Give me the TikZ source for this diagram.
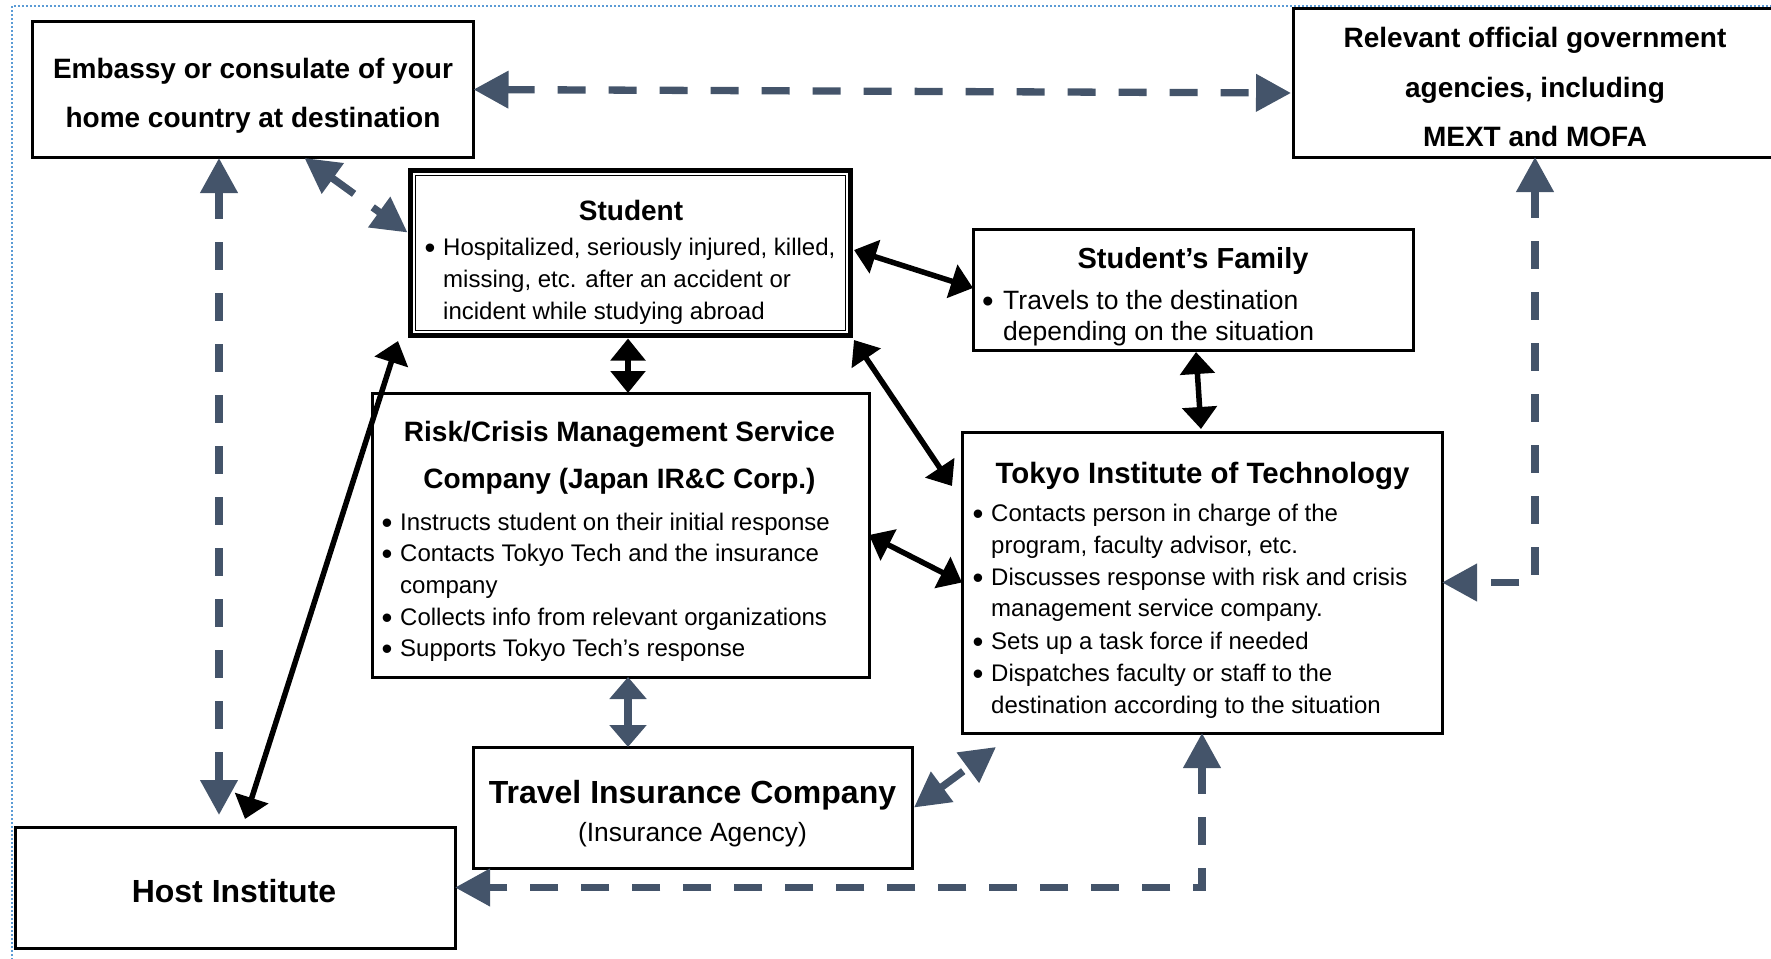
\documentclass[tikz,border=0pt]{standalone}
\usepackage{fontspec}
\setmainfont{Liberation Sans}
\usetikzlibrary{arrows.meta,calc}
\definecolor{slate}{HTML}{44546A}
\definecolor{frameblue}{HTML}{5B9BD5}

\tikzset{
  box/.style={draw=black, line width=3pt, fill=white, inner sep=0pt, outer sep=0pt},
  ttl/.style={font=\fontsize{28}{28}\selectfont\bfseries, anchor=mid, inner sep=0pt},
  bigttl/.style={font=\fontsize{32}{32}\selectfont\bfseries, anchor=mid, inner sep=0pt},
  txt/.style={font=\fontsize{24}{24}\selectfont, anchor=mid west, inner sep=0pt},
  famtxt/.style={font=\fontsize{26.5}{26.5}\selectfont, anchor=mid west, inner sep=0pt},
  bul/.style={font=\fontsize{31}{31}\selectfont, anchor=mid, inner sep=0pt, yshift=-3pt},
  solidlink/.style={draw=black, line width=5.5pt,
    {Triangle[length=22pt,width=34pt]}-{Triangle[length=22pt,width=34pt]}},
  dashlink/.style={draw=slate, line width=7.3pt, dash pattern=on 28pt off 23pt,
    {Triangle[length=35pt,width=36pt]}-{Triangle[length=35pt,width=36pt]}},
  shortlink/.style={draw=slate, line width=7.3pt,
    {Triangle[length=22pt,width=36pt]}-{Triangle[length=22pt,width=36pt]}},
  frameline/.style={draw=frameblue, line width=1.6pt, dash pattern=on 2pt off 2pt}
}

\begin{document}
\begin{tikzpicture}[x=1pt,y=-1pt]
\useasboundingbox (0,0) rectangle (1771,958);

% dotted outer frame (top and left)
\draw[frameline] (12,960) -- (12,6) -- (1771,6);

% boxes
\node[box, minimum width=441pt, minimum height=135pt] (emb) at (253,89.5) {};
\node[box, minimum width=484pt, minimum height=148pt] (gov) at (1535,83) {};
\node[box, line width=5pt, minimum width=440pt, minimum height=165pt] (stu) at (630.5,253) {};
\draw[line width=1.5pt] ($(stu.south west)+(5,-5)$) rectangle ($(stu.north east)+(-5,5)$);
\node[box, minimum width=440pt, minimum height=121pt] (fam) at (1193,289.5) {};
\node[box, minimum width=497pt, minimum height=284pt] (risk) at (620.5,535) {};
\node[box, minimum width=480pt, minimum height=301pt] (tok) at (1202,582.5) {};
\node[box, minimum width=439pt, minimum height=121pt] (trav) at (692.5,807.5) {};
\node[box, minimum width=440pt, minimum height=121pt] (hst) at (235,887.5) {};

% embassy
\node[ttl] (embT1) at (253,76) {Embassy or consulate of your};
\node[ttl] (embT2) at (253,125) {home country at destination};

% government agencies
\node[ttl] (govT1) at (1535,45) {Relevant official government};
\node[ttl] (govT2) at (1535,95) {agencies, including};
\node[ttl] (govT3) at (1535,144) {MEXT and MOFA};

% student
\node[ttl] (stuT) at (631,218) {Student};
\node[bul] (stuB1) at (430,253) {•};
\node[txt] (stuL1) at (443,253) {Hospitalized, seriously injured, killed,};
\node[txt] (stuL2) at (443,285) {missing, etc. after an accident or};
\node[txt] (stuL3) at (443,317) {incident while studying abroad};

% family
\node[ttl, font=\fontsize{29}{29}\selectfont\bfseries] (famT) at (1193,266) {Student’s Family};
\node[bul, font=\fontsize{33}{33}\selectfont] (famB1) at (988,307) {•};
\node[famtxt] (famL1) at (1003,307) {Travels to the destination};
\node[famtxt] (famL2) at (1003,338) {depending on the situation};

% risk / crisis management company
\node[ttl] (riskT1) at (619.5,439) {Risk/Crisis Management Service};
\node[ttl] (riskT2) at (619.5,486) {Company (Japan IR\&C Corp.)};
\node[bul] (riskB1) at (387,528) {•};
\node[txt] (riskL1) at (400,528) {Instructs student on their initial response};
\node[bul] (riskB2) at (387,559) {•};
\node[txt] (riskL2) at (400,559) {Contacts Tokyo Tech and the insurance};
\node[txt] (riskL3) at (400,591) {company};
\node[bul] (riskB3) at (387,623) {•};
\node[txt] (riskL4) at (400,623) {Collects info from relevant organizations};
\node[bul] (riskB4) at (387,654) {•};
\node[txt] (riskL5) at (400,654) {Supports Tokyo Tech’s response};

% Tokyo Tech
\node[ttl, font=\fontsize{29.4}{29.4}\selectfont\bfseries] (tokT) at (1202.5,481) {Tokyo Institute of Technology};
\node[bul] (tokB1) at (978,519) {•};
\node[txt] (tokL1) at (991,519) {Contacts person in charge of the};
\node[txt] (tokL2) at (991,551) {program, faculty advisor, etc.};
\node[bul] (tokB2) at (978,583) {•};
\node[txt] (tokL3) at (991,583) {Discusses response with risk and crisis};
\node[txt] (tokL4) at (991,614) {management service company.};
\node[bul] (tokB3) at (978,647) {•};
\node[txt] (tokL5) at (991,647) {Sets up a task force if needed};
\node[bul] (tokB4) at (978,679) {•};
\node[txt] (tokL6) at (991,679) {Dispatches faculty or staff to the};
\node[txt] (tokL7) at (991,711) {destination according to the situation};

% travel insurance
\node[bigttl] (travT) at (692.5,801) {Travel Insurance Company};
\node[font=\fontsize{26.4}{26.4}\selectfont, anchor=mid, inner sep=0pt] (travS) at (692.5,839) {(Insurance Agency)};

% host institute
\node[bigttl] (hstT) at (234,900) {Host Institute};

% solid links
\draw[solidlink] ($(stu.north east)+(3.5,79.5)$) -- ($(fam.north west)+(0,59)$);
\draw[solidlink] ($(stu.south)+(-2.5,3)$) -- ($(risk.north west)+(256,0)$);
\draw[solidlink] ($(stu.south east)+(3.5,4.5)$) -- ($(tok.north west)+(-10,54)$);
\draw[solidlink] ($(stu.south west)+(-12.5,5.5)$) -- ($(hst.north west)+(230,-8)$);
\draw[solidlink] ($(fam.south)+(3,2)$) -- ($(tok.north)+(-1,-3)$);
\draw[solidlink] (risk.east) -- (tok.west);

% dashed links
\draw[dashlink] (emb.east) -- ($(gov.west)+(-2,10)$);
\draw[dashlink] ($(emb.south west)+(186.5,1)$) -- ($(hst.north west)+(204,-12)$);
\draw[dashlink] ($(emb.south west)+(272,1)$) -- ($(stu.north west)+(-3,62)$);
\draw[dashlink] ($(trav.east)+(2,0)$) -- ($(tok.south west)+(34,14)$);
\draw[dashlink] (tok.south) |- (hst.east);
\draw[dashlink] (gov.south) |- (tok.east);
\draw[shortlink] ($(risk.south)+(7.5,0)$) -- ($(trav.north west)+(155,0)$);

\end{tikzpicture}
\end{document}
